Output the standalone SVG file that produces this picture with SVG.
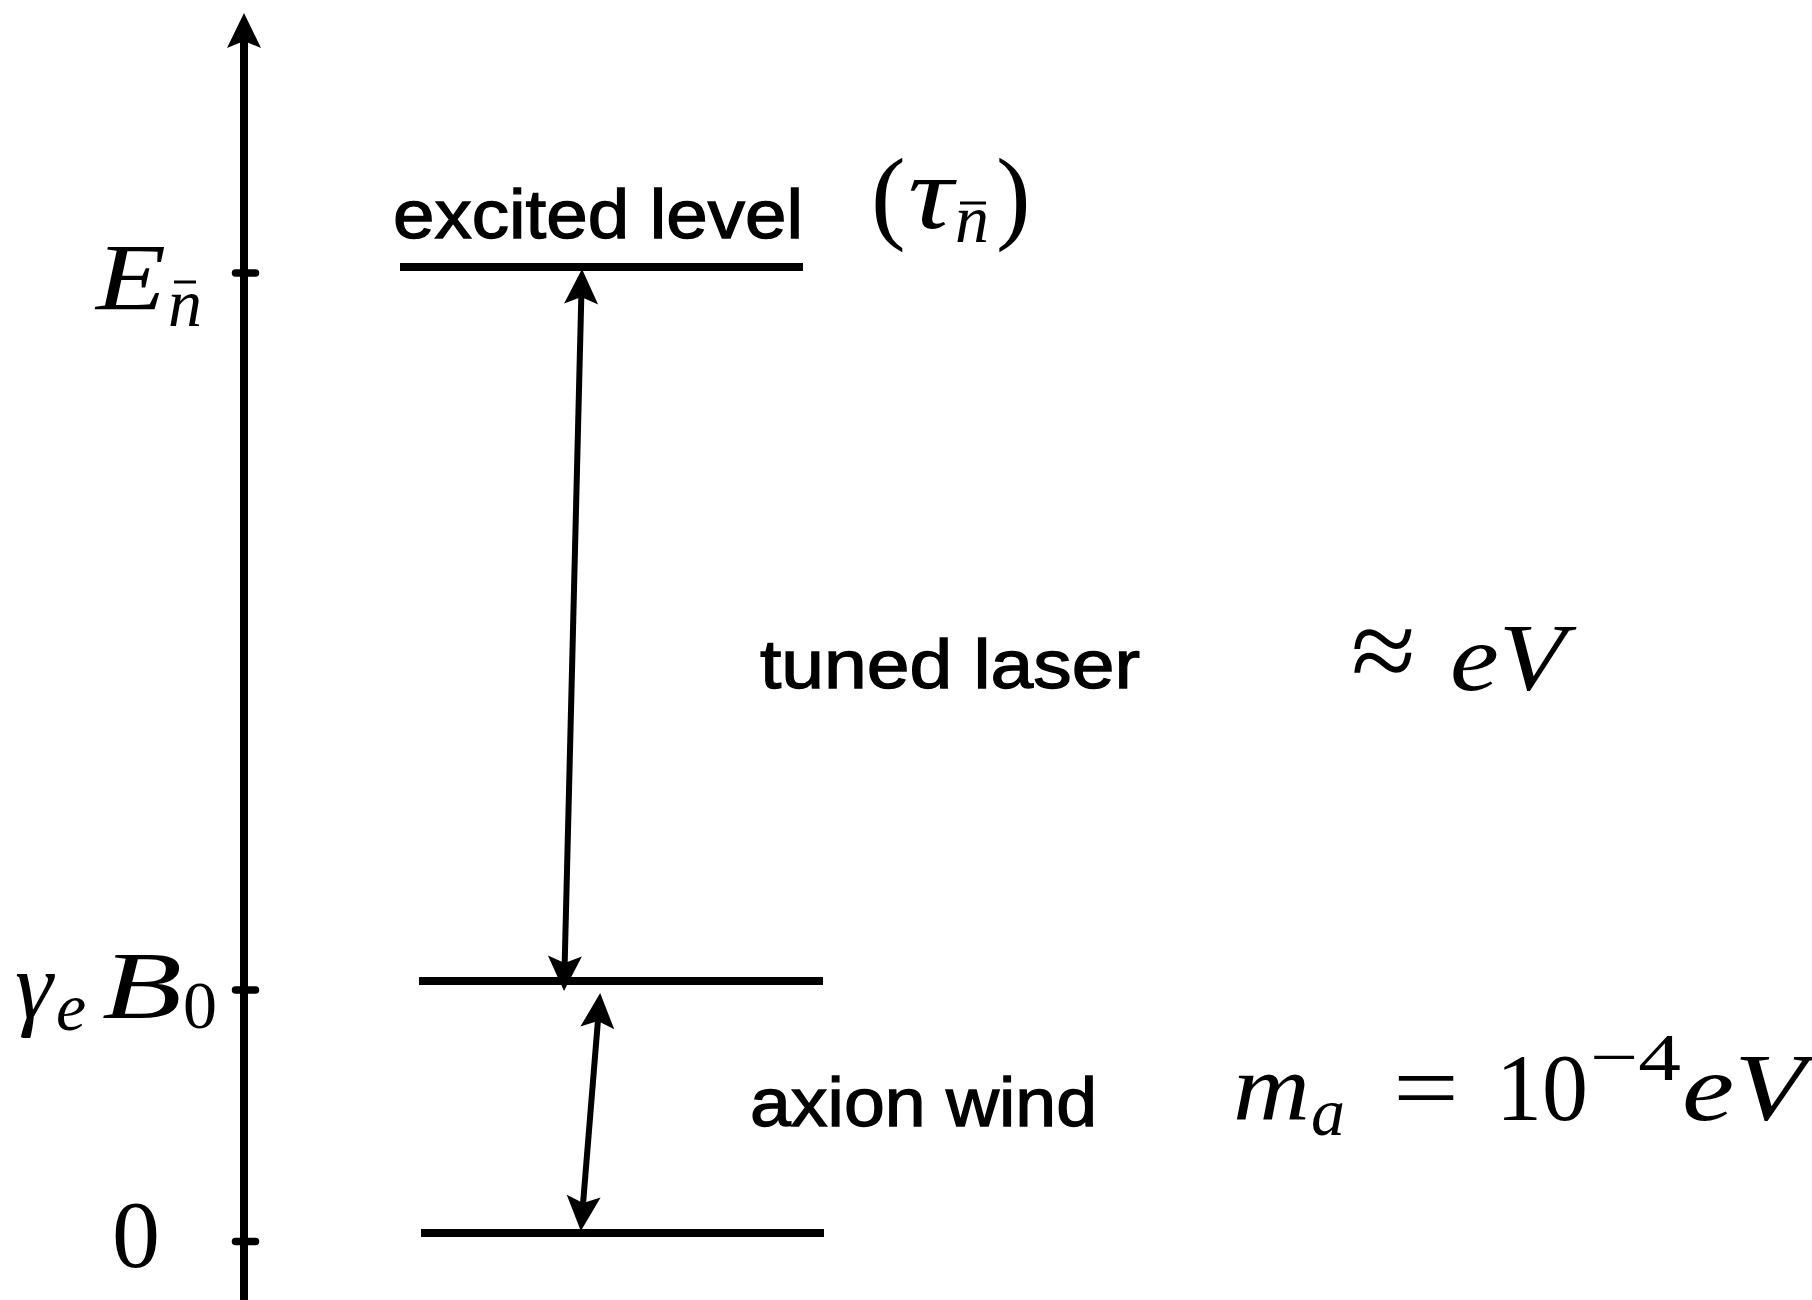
<svg xmlns="http://www.w3.org/2000/svg" width="1812" height="1300" viewBox="0 0 1812 1300">
<style>
.hand{font-family:"Liberation Sans","Open Sans",sans-serif;font-size:68px;fill:#000;stroke:#000;stroke-width:1.3}
.m{font-family:"Liberation Serif","DejaVu Serif",serif;font-size:96px;font-style:italic;fill:#000}
.r{font-family:"Liberation Serif","DejaVu Serif",serif;font-size:96px;fill:#000}
.s{font-size:68px}
.lvl{stroke:#000;stroke-width:8;fill:none}
.tick{stroke:#000;stroke-width:7.5;stroke-linecap:round}
.con{stroke:#000;stroke-width:6;fill:none}
.bar{stroke:#000;stroke-width:3}
</style>
<defs>
<marker id="ah" markerUnits="userSpaceOnUse" markerWidth="44" markerHeight="44" viewBox="-12 -22 44 44" refX="0" refY="0" orient="auto-start-reverse">
<path d="M28,0 L-7,-17 L0,0 L-7,17 Z" fill="#000"/>
</marker>
</defs>
<rect width="1812" height="1300" fill="#fff"/>

<g id="axis">
<line x1="244" y1="1300" x2="244" y2="41" stroke="#000" stroke-width="8" marker-end="url(#ah)"/>
<line class="tick" x1="235.5" y1="273" x2="255.5" y2="273"/>
<line class="tick" x1="235.5" y1="990" x2="255.5" y2="990"/>
<line class="tick" x1="235.5" y1="1241.5" x2="255.5" y2="1241.5"/>
</g>

<g id="label-E">
<text class="m" x="96" y="310" textLength="70" lengthAdjust="spacingAndGlyphs">E</text>
<text class="m s" x="168" y="326">n</text>
<line class="bar" x1="174" y1="282" x2="196" y2="282"/>
</g>

<g id="label-gB">
<text class="m" x="15" y="1018">γ</text>
<text class="m s" x="56" y="1030">e</text>
<text class="m" x="102" y="1018" textLength="80" lengthAdjust="spacingAndGlyphs">B</text>
<text class="r" x="183" y="1028" style="font-size:68px">0</text>
</g>

<g id="label-0">
<text class="r" x="112" y="1267">0</text>
</g>

<g id="level-excited">
<line class="lvl" x1="400" y1="267" x2="803" y2="267"/>
<text class="hand" x="393" y="238" textLength="410" lengthAdjust="spacingAndGlyphs">excited level</text>
<text class="r" x="871" y="230" style="font-size:104px">(</text>
<text class="m" x="908" y="228" style="font-size:104px" textLength="45" lengthAdjust="spacingAndGlyphs">τ</text>
<text class="m s" x="955" y="242">n</text>
<line class="bar" x1="960" y1="203" x2="986" y2="203"/>
<text class="r" x="996" y="230" style="font-size:104px">)</text>
</g>

<g id="level-middle">
<line class="lvl" x1="419" y1="981" x2="823" y2="981"/>
</g>

<g id="level-ground">
<line class="lvl" x1="421" y1="1233" x2="824" y2="1233"/>
</g>

<g id="label-laser">
<text class="hand" x="760" y="688" textLength="380" lengthAdjust="spacingAndGlyphs">tuned laser</text>
<text class="r" x="1351" y="690" style="font-size:118px">≈</text>
<text class="m" x="1450" y="690" textLength="116" lengthAdjust="spacingAndGlyphs">eV</text>
</g>

<g id="label-axion">
<text class="hand" x="750" y="1126" textLength="347" lengthAdjust="spacingAndGlyphs">axion wind</text>
<text class="m" x="1233" y="1120" textLength="77" lengthAdjust="spacingAndGlyphs">m</text>
<text class="m s" x="1311" y="1135">a</text>
<text class="r" x="1393" y="1120" textLength="66" lengthAdjust="spacingAndGlyphs">=</text>
<text class="r" x="1496" y="1120" textLength="92" lengthAdjust="spacingAndGlyphs">10</text>
<text class="r s" x="1590" y="1080" textLength="91" lengthAdjust="spacingAndGlyphs">−4</text>
<text class="m" x="1682" y="1120" textLength="124" lengthAdjust="spacingAndGlyphs">eV</text>
</g>

<g id="connectors">
<line class="con" x1="564.7" y1="963" x2="581.3" y2="297" marker-start="url(#ah)" marker-end="url(#ah)"/>
<line class="con" x1="597.9" y1="1021" x2="583.1" y2="1203" marker-start="url(#ah)" marker-end="url(#ah)"/>
</g>
</svg>
